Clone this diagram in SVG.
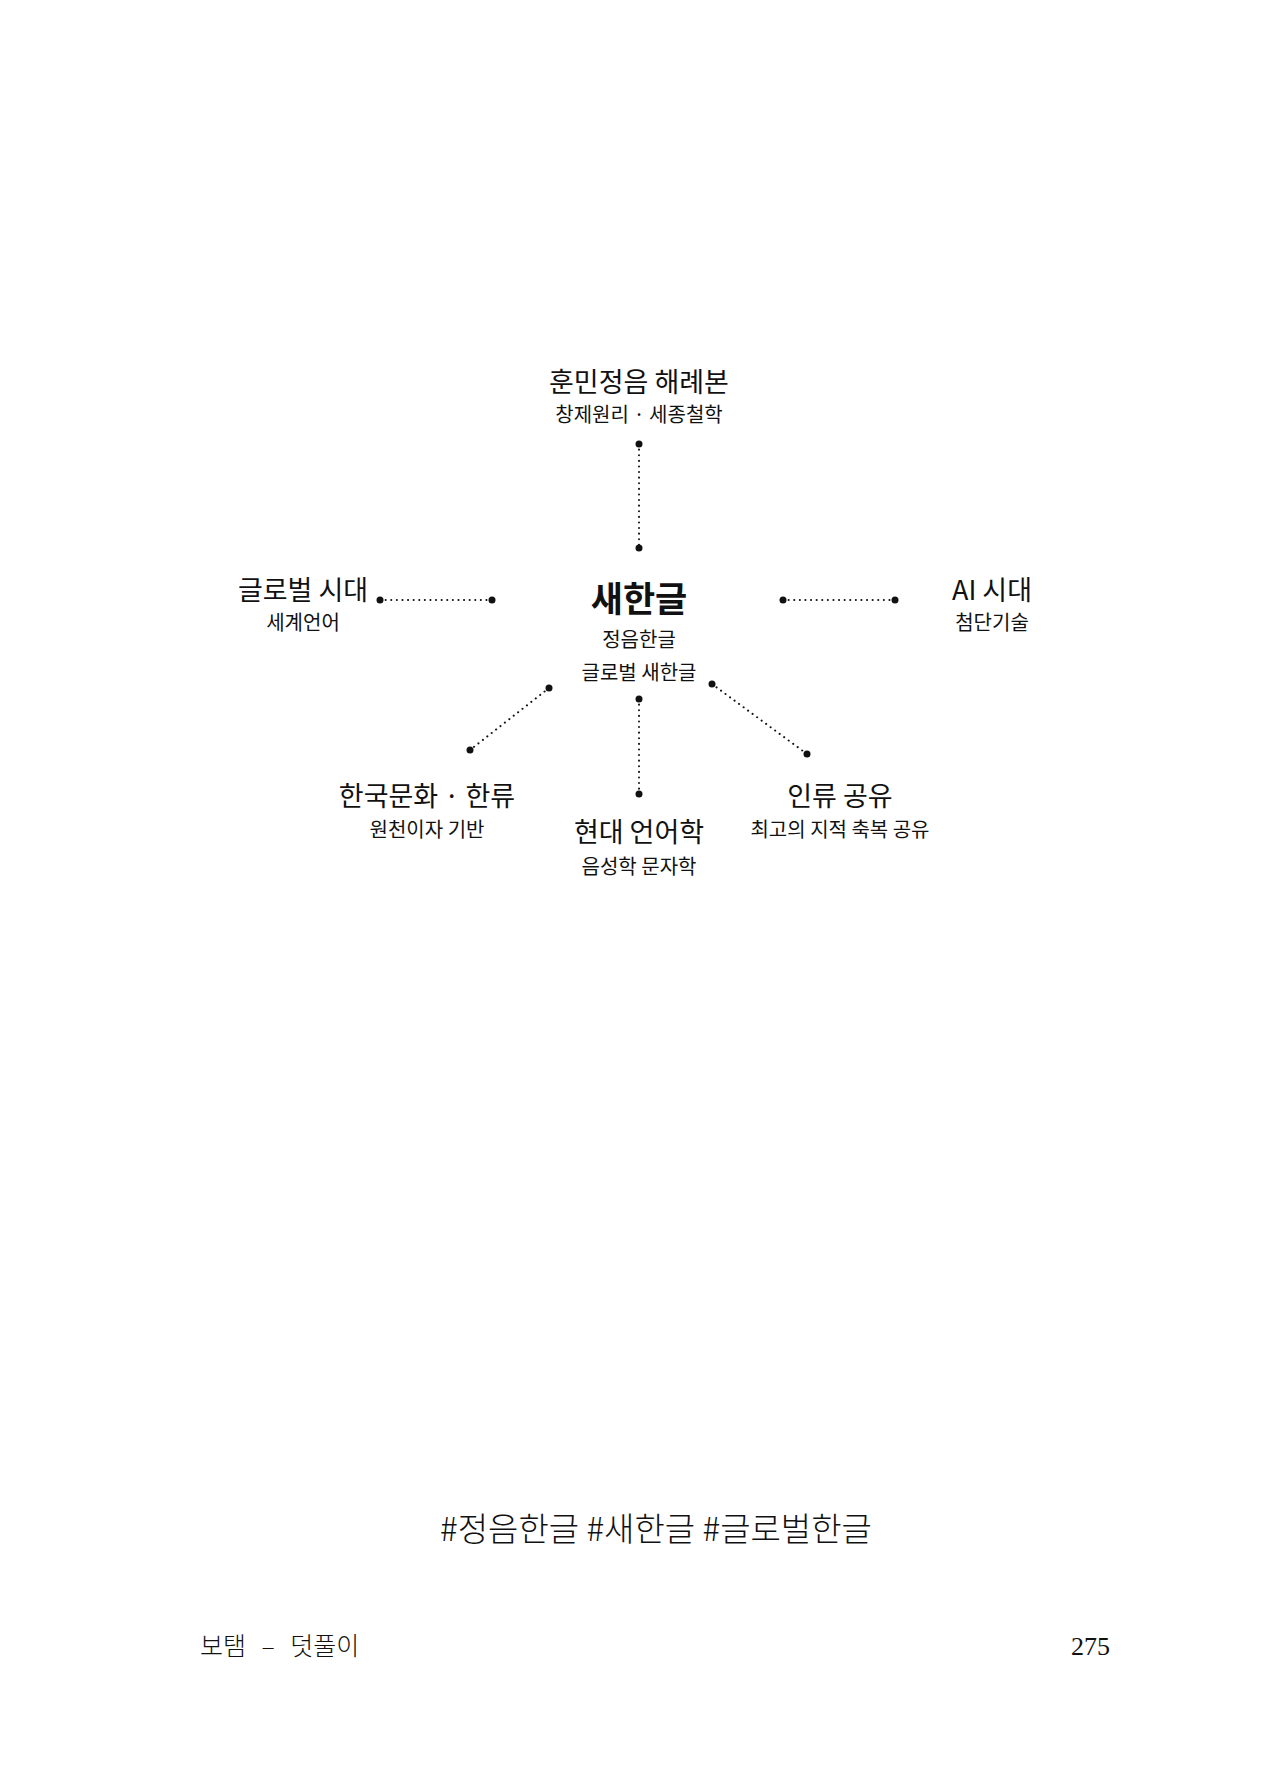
<svg xmlns="http://www.w3.org/2000/svg" width="1280" height="1791" viewBox="0 0 1280 1791">
<style>
.t{font-family:"Noto Sans CJK KR","Noto Sans",sans-serif;fill:#111;text-anchor:middle}
.h{font-size:27px;font-weight:400}
.s{font-size:20px;font-weight:400}
.c{font-size:35px;font-weight:700}
.ln{stroke:#111;stroke-width:2;stroke-dasharray:0.1 5.5;stroke-linecap:round;fill:none}
.d{fill:#111}
</style>
<rect width="1280" height="1791" fill="#fff"/>
<g id="connectors">
<line class="ln" x1="639" y1="444" x2="639" y2="548"/>
<circle class="d" cx="639" cy="444" r="3.5"/><circle class="d" cx="639" cy="548" r="3.5"/>
<line class="ln" x1="380" y1="600" x2="492" y2="600"/>
<circle class="d" cx="380" cy="600" r="3.5"/><circle class="d" cx="492" cy="600" r="3.5"/>
<line class="ln" x1="783" y1="600" x2="895" y2="600"/>
<circle class="d" cx="783" cy="600" r="3.5"/><circle class="d" cx="895" cy="600" r="3.5"/>
<line class="ln" x1="549" y1="688" x2="470" y2="750"/>
<circle class="d" cx="549" cy="688" r="3.5"/><circle class="d" cx="470" cy="750" r="3.5"/>
<line class="ln" x1="639" y1="699" x2="639" y2="794"/>
<circle class="d" cx="639" cy="699" r="3.5"/><circle class="d" cx="639" cy="794" r="3.5"/>
<line class="ln" x1="712" y1="684" x2="807" y2="754"/>
<circle class="d" cx="712" cy="684" r="3.5"/><circle class="d" cx="807" cy="754" r="3.5"/>
</g>
<g id="top"><text class="t h" x="639" y="392">훈민정음 해례본</text><text class="t s" x="639" y="422">창제원리 · 세종철학</text></g>
<g id="center"><text class="t c" x="639" y="612">새한글</text><text class="t s" x="639" y="647">정음한글</text><text class="t s" x="639" y="680">글로벌 새한글</text></g>
<g id="left"><text class="t h" x="303" y="600">글로벌 시대</text><text class="t s" x="303" y="630">세계언어</text></g>
<g id="right"><text class="t h" x="992" y="600">AI 시대</text><text class="t s" x="992" y="630">첨단기술</text></g>
<g id="lowerleft"><text class="t h" x="427" y="806">한국문화 · 한류</text><text class="t s" x="427" y="837">원천이자 기반</text></g>
<g id="bottom"><text class="t h" x="639" y="842">현대 언어학</text><text class="t s" x="639" y="874">음성학 문자학</text></g>
<g id="lowerright"><text class="t h" x="840" y="806">인류 공유</text><text class="t s" x="840" y="837">최고의 지적 축복 공유</text></g>
<text class="t" x="656" y="1541" style="font-size:33px;font-weight:300">#정음한글 #새한글 #글로벌한글</text>
<text x="200" y="1655" style="font-family:'Noto Sans CJK KR',sans-serif;font-size:25px;font-weight:300;fill:#111;word-spacing:10px">보탬 – 덧풀이</text>
<text x="1110" y="1655" text-anchor="end" style="font-family:'Liberation Serif',serif;font-size:26px;fill:#111">275</text>
</svg>
